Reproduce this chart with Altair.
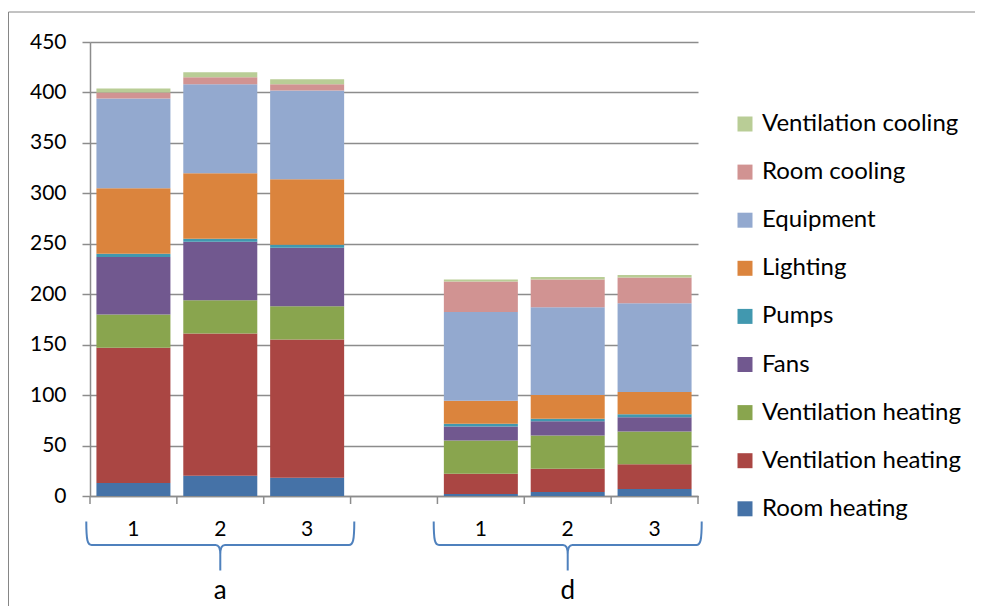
import altair as alt
import pandas as pd

# ---- data ----
slots = ["a|1", "a|2", "a|3", "gap", "d|1", "d|2", "d|3"]
bars = ["a|1", "a|2", "a|3", "d|1", "d|2", "d|3"]

series = ["Room heating", "Ventilation heating", "Ventilation heating ", "Fans", "Pumps",
          "Lighting", "Equipment", "Room cooling", "Ventilation cooling"]
colors = ["#4572A7", "#AA4643", "#89A54E", "#71588F", "#4198AF",
          "#DB843D", "#93A9CF", "#D19392", "#B9CD96"]

room_heating = [13, 20, 18, 2, 4, 7]
vent_heating_red = [134, 141, 137, 20, 23, 24.5]
vent_heating_green = [33, 33, 33, 33, 33, 32.5]
fans = [57, 58, 58, 14, 14, 14]
pumps = [3, 3, 3, 2.5, 2.5, 3]
lighting = [65, 65, 65, 23, 23.5, 22]
equipment = [89, 88, 88, 88, 87, 88]
room_cooling = [6, 7, 6, 30, 27.5, 25.5]
vent_cooling = [4, 5, 5, 2, 2.5, 2.5]

values = [room_heating, vent_heating_red, vent_heating_green, fans, pumps,
          lighting, equipment, room_cooling, vent_cooling]

groups = ["a", "d"]
group_mid = ["a|2", "d|2"]

rows = []
for si, (name, vals) in enumerate(zip(series, values)):
    for b, v in zip(bars, vals):
        rows.append({"slot": b, "series": name, "idx": si, "kwh": v})
df = pd.DataFrame(rows)
gdf = pd.DataFrame({"group": groups, "slot": group_mid})
tdf = pd.DataFrame({"slot": slots})
edf = pd.DataFrame({"slot": [slots[-1]]})
one = pd.DataFrame({"k": [0]})

FONT = "Lato"
GRAY = "#8C8C8C"

x_scale = alt.Scale(domain=slots, paddingInner=0, paddingOuter=0)

bars_chart = alt.Chart(df).mark_bar(width=alt.RelativeBandSize(0.852)).encode(
    x=alt.X("slot:N", scale=x_scale, sort=slots, title=None,
            axis=alt.Axis(labelExpr="datum.value == 'gap' ? '' : slice(datum.value, -1)",
                          labelAngle=0, ticks=False, labelPadding=22,
                          labelFontSize=21, labelColor="black", domainColor=GRAY,
                          domainWidth=1.5, grid=False)),
    y=alt.Y("kwh:Q", stack="zero", title=None,
            scale=alt.Scale(domain=[0, 450], nice=False),
            axis=alt.Axis(values=list(range(0, 451, 50)), tickSize=8, labelPadding=16,
                          labelFontSize=21, labelColor="black", domainColor=GRAY,
                          tickColor=GRAY, gridColor=GRAY, gridWidth=1.5,
                          domainWidth=1.5, tickWidth=1.5)),
    color=alt.Color("series:N", title=None,
                    scale=alt.Scale(domain=series[::-1], range=colors[::-1]),
                    legend=alt.Legend(orient="none", legendX=643, legendY=70,
                                      symbolType="square", symbolSize=225,
                                      symbolStrokeWidth=0, labelFontSize=24,
                                      labelOffset=5, rowPadding=24.1, padding=0,
                                      labelColor="black", labelLimit=400)),
    order=alt.Order("idx:Q", sort="ascending"),
)

ticks_chart = alt.Chart(tdf).mark_rule(color=GRAY, strokeWidth=1.5).encode(
    x=alt.X("slot:N", scale=x_scale, sort=slots, title=None, bandPosition=0),
    y=alt.value(454), y2=alt.value(462),
)
end_tick = alt.Chart(edf).mark_rule(color=GRAY, strokeWidth=1.5).encode(
    x=alt.X("slot:N", scale=x_scale, sort=slots, title=None, bandPosition=1),
    y=alt.value(454), y2=alt.value(462),
)

brace_path = ("M -1 -0.175 C -1 -0.03 -0.99 0 -0.96 0 L -0.035 0 "
              "C -0.01 0 0 0.02 0 0.07 L 0 0.19 M 0 0.07 "
              "C 0 0.02 0.01 0 0.035 0 L 0.96 0 C 0.99 0 1 -0.03 1 -0.175")

braces = alt.Chart(gdf).mark_point(shape=brace_path, filled=False, stroke="#4F81BD",
                                   strokeWidth=2, size=268 * 268, opacity=1).encode(
    x=alt.X("slot:N", scale=x_scale, sort=slots, title=None),
    y=alt.value(503),
)

group_labels = alt.Chart(gdf).mark_text(fontSize=26, baseline="alphabetic", color="black",
                                        font=FONT).encode(
    x=alt.X("slot:N", scale=x_scale, sort=slots, title=None),
    y=alt.value(557),
    text="group:N",
)

frame_top = alt.Chart(one).mark_rule(color="#868686", strokeWidth=1).encode(
    x=alt.value(-81.5), x2=alt.value(1000), y=alt.value(-30),
)
frame_left = alt.Chart(one).mark_rule(color="#868686", strokeWidth=1).encode(
    x=alt.value(-81.5), y=alt.value(-30), y2=alt.value(700),
)

chart = alt.layer(frame_top, frame_left, bars_chart, ticks_chart, end_tick, braces,
                  group_labels).properties(
    width=608, height=454,
    padding={"left": 82, "top": 34, "right": 277, "bottom": 110},
    autosize=alt.AutoSizeParams(type="none"),
).configure(font=FONT).configure_view(strokeWidth=0)

chart.save("out.html", embed_options={"renderer": "svg", "actions": False})
